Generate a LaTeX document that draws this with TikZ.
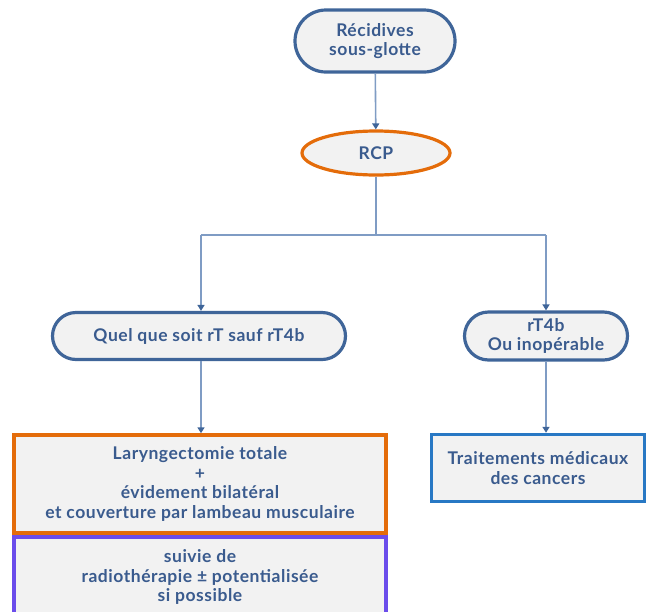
\documentclass[tikz,border=0pt]{standalone}
\usepackage{fontspec}
\setmainfont{Lato}[LetterSpace=3]
\usetikzlibrary{shapes.geometric,shapes.misc,arrows.meta}
\definecolor{txt}{HTML}{3A5B8E}
\definecolor{edge}{HTML}{3F6599}
\definecolor{conn}{HTML}{7F9CC4}
\definecolor{orng}{HTML}{E46C0A}
\definecolor{purp}{HTML}{6B4DEB}
\definecolor{bblue}{HTML}{2878C4}
\definecolor{fillg}{HTML}{F2F2F2}
\begin{document}
\begin{tikzpicture}[x=1pt,y=-1pt,
  every node/.style={font=\fontsize{17.5}{19.8}\selectfont\bfseries, text=txt, align=center, fill=fillg, inner sep=0pt},
  pill/.style={rounded rectangle, draw=edge, line width=3.2pt},
  oval/.style={ellipse, draw=orng, line width=3.2pt},
  boxo/.style={rectangle, draw=orng, line width=3.5pt},
  boxp/.style={rectangle, draw=purp, line width=3.5pt},
  boxb/.style={rectangle, draw=bblue, line width=3.5pt},
  conn/.style={draw=conn, line width=1.6pt},
  arr/.style={conn, -{Triangle[length=6pt,width=7pt,fill=edge,color=edge]}}
]
\useasboundingbox (0,0) rectangle (647,611);
\node[pill, minimum width=160pt, minimum height=62pt] (rec) at (375,41) {Récidives\\sous-glotte};
\node[oval, minimum width=148pt, minimum height=44pt] (rcp) at (376,153) {RCP};
\node[pill, minimum width=293pt, minimum height=47pt] (quel) at (199,336) {Quel que soit rT sauf rT4b};
\node[pill, minimum width=163pt, minimum height=48pt] (rt4b) at (546,336) {rT4b\\Ou inopérable};
\node[boxp, minimum width=372pt, minimum height=90pt, anchor=north] (suiv) at (200,535) {};
\node[boxo, minimum width=372pt, minimum height=98pt] (lar) at (200,484) {Laryngectomie totale\\+\\évidement bilatéral\\et couverture par lambeau musculaire};
\node[fill=none] (suivt) at (200,577) {suivie de\\radiothérapie ± potentialisée\\si possible};
\node[boxb, minimum width=213pt, minimum height=67pt] (trt) at (538,468) {Traitements médicaux\\des cancers};
\coordinate (j) at (376,235);
\coordinate (jl) at (201,235);
\coordinate (jr) at (546,235);
\draw[arr] (rec) -- (rcp);
\draw[conn] (rcp) -- (j);
\draw[conn] (jl) -- (jr);
\draw[arr] (jl) -- (quel.north -| jl);
\draw[arr] (jr) -- (rt4b);
\draw[arr] (quel.south -| jl) -- (lar.north -| jl);
\draw[arr] (rt4b) -- (trt.north -| rt4b);
\end{tikzpicture}
\end{document}
